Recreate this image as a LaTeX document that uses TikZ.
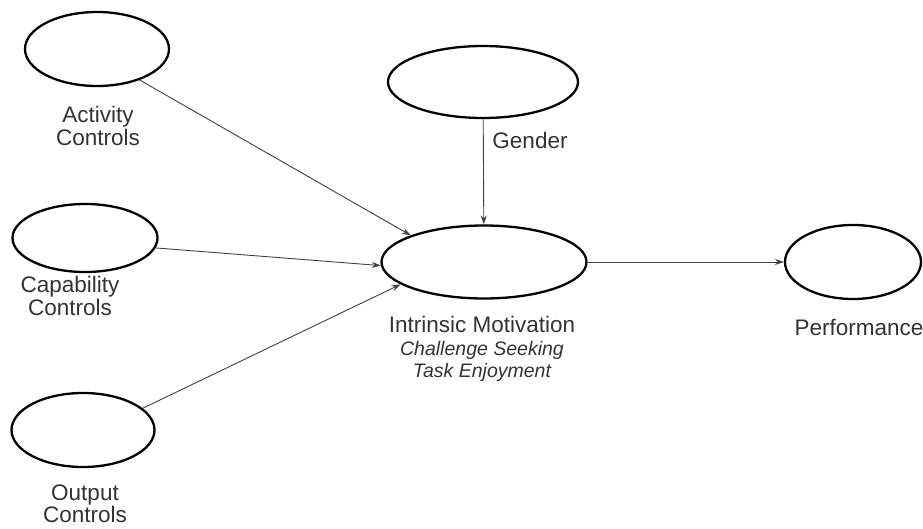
\documentclass[tikz,border=0pt]{standalone}
\usepackage{fontspec}
\setmainfont{Liberation Sans}
\usetikzlibrary{shapes.geometric,arrows.meta}
\begin{document}
\begin{tikzpicture}[x=1pt,y=-1pt,
  latent/.style={draw=black,line width=2.3pt,ellipse,inner sep=0pt},
  lbl/.style={align=center,text=black!80,font=\fontsize{22.5}{22.5}\selectfont,inner sep=0pt},
  arr/.style={draw=black!75,line width=0.9pt,-{Stealth[length=9pt,width=6pt]}}]
\useasboundingbox (0,0) rectangle (923,529);
\node[latent,minimum width=144pt,minimum height=74pt] (act) at (97,49) {};
\node[latent,minimum width=145pt,minimum height=68pt] (cap) at (85,238) {};
\node[latent,minimum width=143pt,minimum height=74pt] (out) at (83,430) {};
\node[latent,minimum width=190pt,minimum height=72pt] (gen) at (483,82) {};
\node[latent,minimum width=205pt,minimum height=73pt] (im) at (484,262) {};
\node[latent,minimum width=136pt,minimum height=74pt] (perf) at (853,262) {};
\node[lbl] (actl) at (98,126) {Activity\\Controls};
\node[lbl] (capl) at (70,296) {Capability\\Controls};
\node[lbl] (outl) at (85,504) {Output\\Controls};
\node[lbl] (genl) at (530,140) {Gender};
\node[lbl] (iml) at (482,349) {Intrinsic Motivation\\{\fontsize{19.5}{22.5}\selectfont\itshape Challenge Seeking}\\{\fontsize{19.5}{22.5}\selectfont\itshape Task Enjoyment}};
\node[lbl] (perfl) at (859,327) {Performance};
\draw[arr] (act.324) -- (im.160);
\draw[arr] (cap.352) -- (im.182);
\draw[arr] (out.20) -- (im.195);
\draw[arr] (gen) -- (im);
\draw[arr] (im) -- (perf);
\end{tikzpicture}
\end{document}
